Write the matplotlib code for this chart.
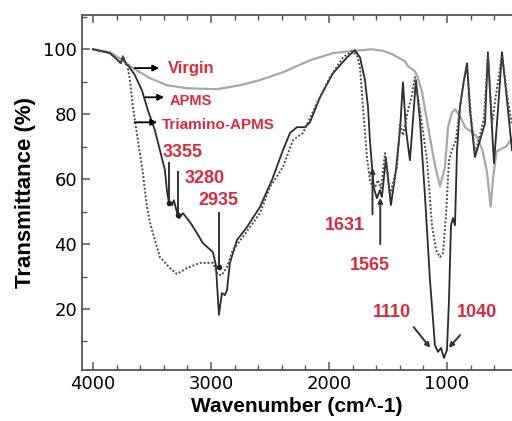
import numpy as np
import matplotlib.pyplot as plt

# wavenumber (cm^-1) and transmittance (%)
virgin_wn = [4000, 3856, 3746, 3661, 3517, 3373, 3203, 2949, 2754, 2585, 2390, 2161,
             1966, 1822, 1636, 1542, 1466, 1356, 1330, 1271, 1246, 1212, 1169, 1102,
             1059, 1017, 991, 958, 932, 890, 847, 790, 746, 700, 660, 630, 610, 580,
             530, 500, 449]
virgin_t = [100, 99.1, 96.6, 94.2, 91.1, 88.9, 88.0, 87.7, 88.9, 90.5, 92.9, 96.6,
            98.8, 99.4, 100.0, 99.5, 98.5, 96.3, 94.8, 93.2, 91.1, 87.0, 78.0, 64.3,
            57.8, 63.7, 76.0, 80.5, 81.5, 79.5, 76.0, 74.5, 73.0, 69.0, 62.0, 51.5,
            60.0, 68.5, 69.5, 70.0, 72.5]

apms_wn = [4000, 3856, 3788, 3763, 3746, 3720, 3703, 3644, 3585, 3534, 3475, 3432,
           3390, 3373, 3356, 3330, 3314, 3288, 3271, 3237, 3178, 3119, 3068, 2983,
           2958, 2932, 2907, 2881, 2864, 2839, 2780, 2695, 2585, 2483, 2390, 2330,
           2271, 2203, 2161, 2076, 1966, 1847, 1780, 1737, 1695, 1669, 1653, 1636,
           1619, 1593, 1568, 1551, 1517, 1475, 1432, 1398, 1373, 1347, 1314, 1288,
           1263, 1229, 1186, 1144, 1102, 1076, 1051, 1025, 1000, 983, 966, 949,
           932, 915, 890, 856, 830, 805, 763, 720, 678, 653, 627, 602, 568, 534,
           500, 449]
apms_t = [100, 98.8, 96.6, 95.7, 97.8, 95.4, 95.1, 92.0, 87.4, 81.2, 75.1, 68.9,
          62.8, 56.6, 52.6, 52.0, 53.5, 49.8, 48.0, 49.5, 46.8, 43.4, 40.3, 37.5,
          33.5, 18.2, 24.9, 24.3, 25.8, 34.2, 41.2, 45.2, 51.4, 59.7, 68.9, 74.2,
          76.0, 76.0, 77.5, 85.2, 92.6, 97.5, 99.7, 97.5, 90.5, 82.2, 72.0, 64.3,
          57.2, 54.1, 56.6, 54.5, 66.5, 52.0, 62.8, 75.1, 89.8, 75.1, 65.8, 78.2,
          90.5, 78.2, 54.5, 28.9, 8.9, 6.8, 8.0, 4.9, 7.4, 22.8, 45.8, 48.0,
          45.8, 68.9, 82.2, 90.5, 95.7, 81.2, 66.8, 72.0, 77.2, 99.1, 81.2, 64.9,
          81.2, 99.1, 87.4, 68.9]

tri_wn = [4000, 3856, 3788, 3763, 3746, 3720, 3712, 3686, 3661, 3619, 3576, 3542,
          3517, 3492, 3432, 3347, 3288, 3203, 3093, 2983, 2941, 2907, 2864, 2814,
          2729, 2585, 2500, 2390, 2305, 2220, 2102, 1991, 1881, 1805, 1763, 1737,
          1712, 1678, 1653, 1619, 1585, 1559, 1525, 1483, 1424, 1398, 1373, 1330,
          1297, 1271, 1229, 1169, 1127, 1093, 1059, 1034, 1008, 983, 958, 924,
          890, 856, 830, 797, 763, 720, 686, 653, 618, 585, 534, 491, 449]
tri_t = [100, 98.8, 96.6, 95.7, 97.8, 95.4, 95.7, 90.5, 82.2, 72.0, 61.8, 51.4,
         46.8, 43.4, 36.0, 32.6, 30.8, 32.6, 34.2, 34.2, 30.5, 30.5, 32.9, 38.2,
         42.2, 49.5, 57.5, 63.7, 72.0, 74.2, 83.4, 91.4, 97.5, 99.4, 98.2, 94.5,
         82.2, 66.8, 59.7, 56.6, 59.7, 57.2, 68.0, 55.1, 63.7, 77.2, 73.5, 81.2,
         85.8, 91.4, 81.2, 65.8, 45.8, 38.2, 36.0, 37.2, 48.9, 65.8, 68.9, 72.0,
         82.2, 90.5, 94.5, 79.7, 68.0, 73.5, 79.1, 98.2, 77.2, 85.8, 98.2, 85.8, 76.6]

# peak labels: text, text x, text y
peak_labels = ['3355', '3280', '2935', '1631', '1565', '1110', '1040']
peak_text_x = [3237, 3051, 2941, 1864, 1653, 1466, 746]
peak_text_y = [68.3, 60.3, 53.5, 45.8, 33.5, 18.8, 18.8]

red = '#dc2a3c'

fig = plt.figure(figsize=(5.12, 4.21), dpi=100)
ax = fig.add_axes([0.160, 0.121, 0.840, 0.843])

ax.plot(virgin_wn, virgin_t, color='#a8a8a8', lw=1.6)
ax.plot(apms_wn, apms_t, color='#2b2b2b', lw=1.3)
ax.plot(tri_wn, tri_t, color='#4a4a4a', lw=1.4, ls=(0, (1, 1)))

ax.set_xlim(4093, 449)
ax.set_ylim(1.2, 110.5)

# curve labels with arrows
arw = dict(arrowstyle='-|>', color='black', lw=1.3, mutation_scale=9)
ax.annotate('', xy=(3415, 94.2), xytext=(3670, 94.2), arrowprops=arw)
ax.annotate('', xy=(3373, 85.2), xytext=(3585, 85.2), arrowprops=arw)
ax.annotate('', xy=(3432, 77.5), xytext=(3670, 77.5), arrowprops=arw)
ax.text(3364, 94.2, 'Virgin', color=red, fontsize=12, fontweight='bold',
        family='Liberation Sans', va='center', ha='left')
ax.text(3347, 84.0, 'APMS', color=red, fontsize=10.5, fontweight='bold',
        family='Liberation Sans', va='center', ha='left')
ax.text(3415, 76.6, 'Triamino-APMS', color=red, fontsize=11, fontweight='bold',
        family='Liberation Sans', va='center', ha='left')

# peak markers
ax.plot([3355, 3355], [64.9, 52.6], color='#333333', lw=1.4)
ax.plot([3280, 3280], [62.2, 48.9], color='#333333', lw=1.4)
ax.plot([2935, 2935], [49.5, 32.9], color='#333333', lw=1.4)
ax.plot([3355, 3280, 2935], [52.6, 48.9, 32.9], 'o', color='#222222', ms=3)
up = dict(arrowstyle='-|>', color='#333333', lw=1.4, mutation_scale=7)
ax.annotate('', xy=(1631, 64.3), xytext=(1631, 48.3), arrowprops=up)
ax.annotate('', xy=(1565, 55.1), xytext=(1565, 39.1), arrowprops=up)
ax.annotate('', xy=(1127, 7.4), xytext=(1297, 15.1), arrowprops=up)
ax.annotate('', xy=(1000, 7.4), xytext=(873, 12.6), arrowprops=up)

for lab, tx, ty in zip(peak_labels, peak_text_x, peak_text_y):
    ax.text(tx, ty, lab, color=red, fontsize=13, fontweight='bold',
            family='Liberation Sans', ha='center', va='center')

ax.set_xticks([4000, 3000, 2000, 1000])
ax.set_xticks(np.arange(4000, 400, -200), minor=True)
ax.set_yticks([20, 40, 60, 80, 100])
ax.set_yticks([10, 30, 50, 70, 90, 110], minor=True)
ax.tick_params(which='both', direction='in', top=True, right=False,
               labelsize=13, color='#555555')
ax.tick_params(which='major', length=6, width=1.1)
ax.tick_params(which='minor', length=3.5, width=1.0)
for s in ['left', 'bottom', 'top']:
    ax.spines[s].set_color('#555555')
    ax.spines[s].set_linewidth(1.3)
ax.spines['right'].set_visible(False)

ax.set_xlabel('Wavenumber (cm^-1)', fontsize=15, fontweight='bold',
              family='Liberation Sans', labelpad=3)
ax.set_ylabel('Transmittance (%)', fontsize=16, fontweight='bold',
              family='Liberation Sans', labelpad=5)

plt.savefig('out.png', dpi=100)
